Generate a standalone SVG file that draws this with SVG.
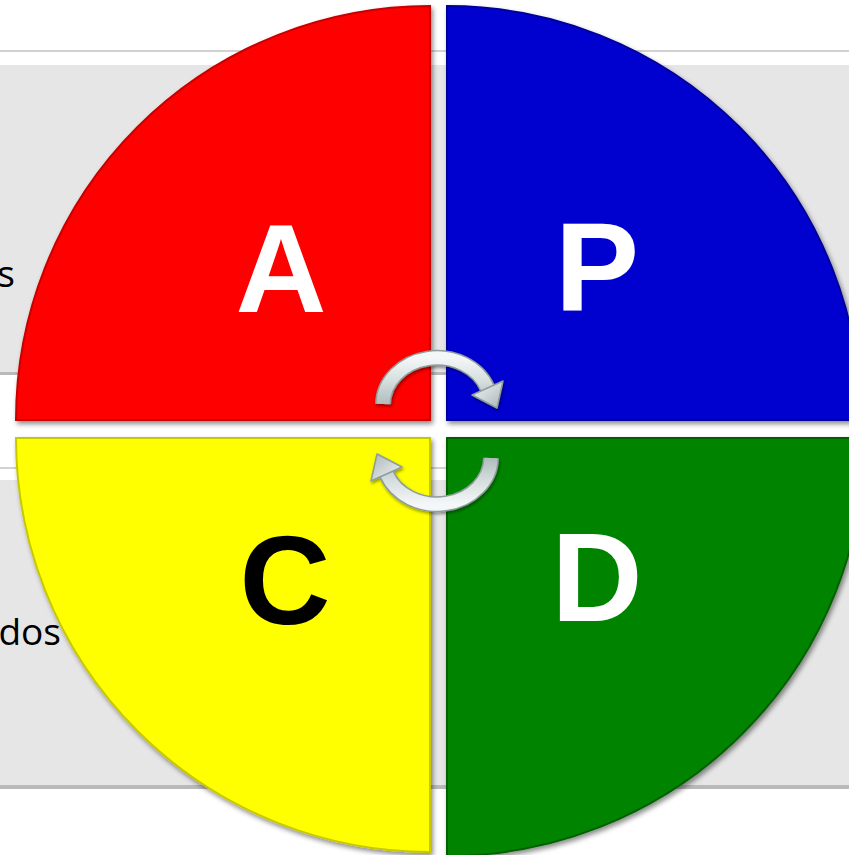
<svg xmlns="http://www.w3.org/2000/svg" width="849" height="855" viewBox="0 0 849 855">
<style>
.band{fill:#e6e6e6}
.line{fill:none;stroke:#d2d2d2;stroke-width:2}
.sh{fill:#8a8a8a}
.q{stroke-width:2;filter:url(#ds)}
.lbl{font-family:"Liberation Sans","DejaVu Sans",sans-serif;font-weight:bold;font-size:126px;text-anchor:middle}
.side{font-family:"Open Sans","Liberation Sans",sans-serif;font-size:37px;fill:#000;text-anchor:end}
.arc{fill:none;stroke:url(#sil);stroke-width:13;stroke-linecap:butt}
.arcO{fill:none;stroke:#8e9c9c;stroke-width:16}
.head{fill:url(#silh);stroke:#8e9c9c;stroke-width:1.5;stroke-linejoin:round}
</style>
<defs>
<filter id="ds" x="-10%" y="-10%" width="120%" height="120%">
<feDropShadow dx="2" dy="3" stdDeviation="2.5" flood-color="#000" flood-opacity="0.45"/>
</filter>
<filter id="ds2" x="-20%" y="-20%" width="140%" height="140%">
<feDropShadow dx="1" dy="2" stdDeviation="1.5" flood-color="#000" flood-opacity="0.4"/>
</filter>
<linearGradient id="sil" x1="0" y1="0" x2="0" y2="1">
<stop offset="0" stop-color="#f4f7f7"/>
<stop offset="0.5" stop-color="#d6dede"/>
<stop offset="1" stop-color="#b0bcbc"/>
</linearGradient>
<linearGradient id="silh" x1="0" y1="0" x2="1" y2="1">
<stop offset="0" stop-color="#f4f7f7"/>
<stop offset="1" stop-color="#aab6b6"/>
</linearGradient>
</defs>
<rect width="849" height="855" fill="#ffffff"/>
<g id="background">
<line class="line" x1="0" y1="51" x2="849" y2="51"/>
<rect class="sh" x="0" y="369" width="849" height="6" opacity="0.6"/>
<rect class="band" x="0" y="65" width="849" height="307"/>
<line class="line" x1="0" y1="468" x2="849" y2="468"/>
<rect class="sh" x="0" y="783" width="849" height="6" opacity="0.6"/>
<rect class="band" x="0" y="480" width="849" height="305"/>
<text class="side" x="15" y="287">s</text>
<text class="side" x="61" y="645">dos</text>
</g>
<g id="node-A">
<path class="q" d="M430,420 L16,420 A414,414 0 0 1 430,6 Z" fill="#fe0606" stroke="#c80000"/>
<text class="lbl" x="281" y="312" fill="#ffffff">A</text>
</g>
<g id="node-P">
<path class="q" d="M447,420 L447,6 A414,414 0 0 1 861,420 Z" fill="#0404cf" stroke="#00009a"/>
<text class="lbl" x="597" y="311" fill="#ffffff">P</text>
</g>
<g id="node-C">
<path class="q" d="M430,438 L430,852 A414,414 0 0 1 16,438 Z" fill="#ffff00" stroke="#c8c800"/>
<text class="lbl" x="285" y="624" fill="#000000">C</text>
</g>
<g id="node-D">
<path class="q" d="M447,438 L865,438 A418,418 0 0 1 447,856 Z" fill="#058405" stroke="#006000"/>
<text class="lbl" x="597" y="621" fill="#ffffff">D</text>
</g>
<g id="connectors" filter="url(#ds2)">
<g id="arrow-top">
<path class="arcO" d="M383,404 A54,47 0 0 1 487.4,388"/>
<path class="arc" d="M383,404 A54,47 0 0 1 487.4,388"/>
<polygon class="head" points="472,395 503,381 497,408"/>
</g>
<g id="arrow-bottom" transform="rotate(180 437 431)">
<path class="arcO" d="M383,404 A54,47 0 0 1 487.4,388"/>
<path class="arc" d="M383,404 A54,47 0 0 1 487.4,388"/>
<polygon class="head" points="472,395 503,381 497,408"/>
</g>
</g>
</svg>
